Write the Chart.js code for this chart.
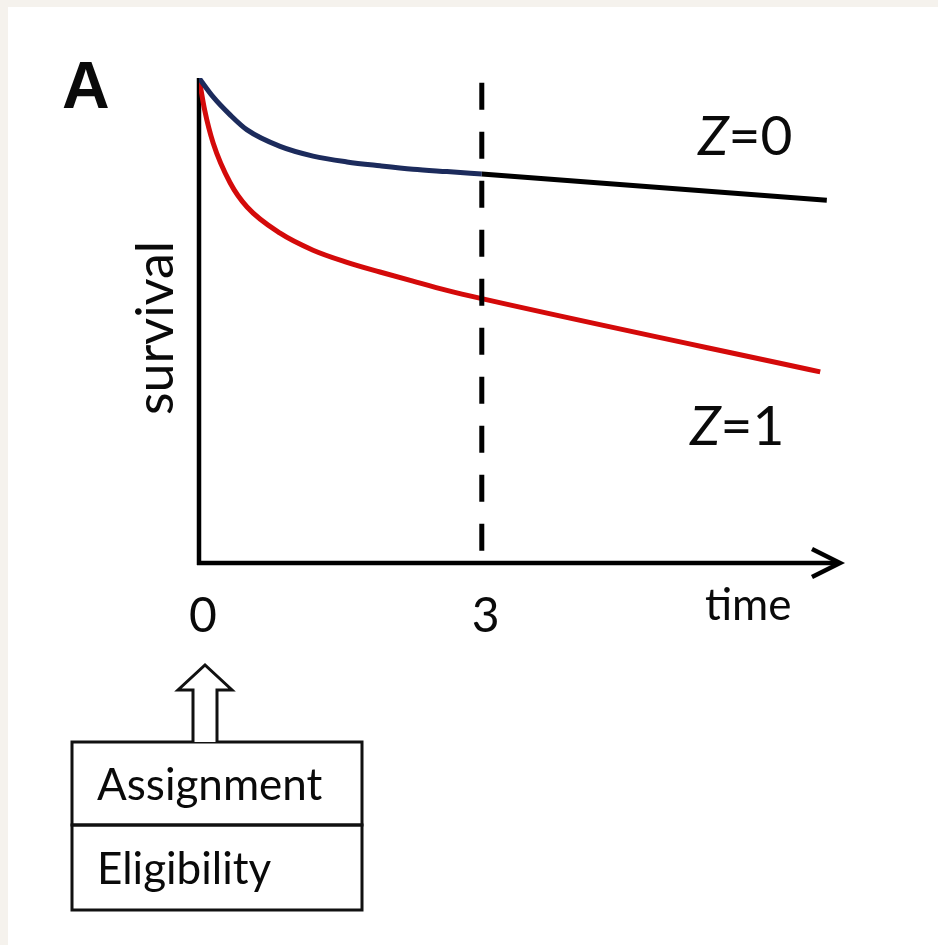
<!DOCTYPE html>
<html>
<head>
<meta charset="utf-8">
<script src="https://cdn.jsdelivr.net/npm/chart.js@4.4.1/dist/chart.umd.min.js"></script>
<style>
  html, body { margin: 0; padding: 0; background: #f5f2ed; }
  canvas { display: block; }
</style>
</head>
<body>
<canvas id="survChart" width="938" height="945"></canvas>
<script>
  // values (time in units, survival 0..1)
  var timeZ0a = [0, 0.15, 0.33, 0.51, 0.86, 1.21, 1.57, 1.92, 2.27, 2.63, 3.0];
  var survZ0a = [1.0, 0.961, 0.924, 0.893, 0.859, 0.839, 0.827, 0.819, 0.812, 0.807, 0.802];
  var timeZ0b = [3.0, 6.66];
  var survZ0b = [0.802, 0.748];
  var timeZ1 = [0, 0.06, 0.15, 0.33, 0.51, 0.86, 1.21, 1.57, 1.92, 2.27, 2.63, 3.0, 6.59];
  var survZ1 = [1.0, 0.934, 0.866, 0.784, 0.734, 0.680, 0.645, 0.620, 0.600, 0.581, 0.562, 0.545, 0.394];
  var cutoffTime = [3, 3];
  var cutoffSurv = [0.99, 0.022];
  var tickValues = [0, 3];
  var tickLabels = ['0', '3'];

  function pts(xs, ys) {
    return xs.map(function (x, i) { return { x: x, y: ys[i] }; });
  }

  var font = 'Lato, "Open Sans", sans-serif';

  var decor = {
    id: 'decor',
    beforeDraw: function (chart) {
      var c = chart.ctx;
      c.save();
      c.fillStyle = '#f5f2ed';
      c.fillRect(0, 0, chart.width, chart.height);
      c.fillStyle = '#ffffff';
      c.fillRect(8, 7, chart.width - 8, chart.height - 7);
      c.restore();
    },
    beforeDatasetsDraw: function (chart) {
      var c = chart.ctx, a = chart.chartArea;
      c.save();
      c.strokeStyle = '#000';
      c.lineWidth = 4.5;
      c.lineCap = 'butt';
      // y axis
      c.beginPath();
      c.moveTo(a.left, a.top);
      c.lineTo(a.left, a.bottom + 2);
      c.stroke();
      // x axis with arrow
      c.beginPath();
      c.moveTo(a.left - 2, a.bottom);
      c.lineTo(a.right - 2, a.bottom);
      c.stroke();
      c.lineJoin = 'miter';
      c.beginPath();
      c.moveTo(a.right - 28, a.bottom - 14);
      c.lineTo(a.right, a.bottom);
      c.lineTo(a.right - 28, a.bottom + 14);
      c.stroke();
      c.restore();
    },
    afterDraw: function (chart) {
      var c = chart.ctx, xs = chart.scales.x;
      c.save();
      c.fillStyle = '#0a0a0a';
      c.textBaseline = 'alphabetic';

      // panel letter
      c.font = 'bold 66px "Liberation Sans", Arial, sans-serif';
      c.textAlign = 'left';
      c.fillText('A', 62, 108);

      // tick labels
      c.font = '48px ' + font;
      c.textAlign = 'center';
      tickValues.forEach(function (v, i) {
        c.fillText(tickLabels[i], xs.getPixelForValue(v) + 4, 632);
      });

      // axis titles
      c.font = '44px ' + font;
      c.textAlign = 'left';
      c.fillText('time', 705, 620);

      c.save();
      c.translate(173, 328);
      c.rotate(-Math.PI / 2);
      c.textAlign = 'center';
      c.font = '52px ' + font;
      c.fillText('survival', 0, 0);
      c.restore();

      // group labels
      function zLabel(txt, x, y) {
        c.textAlign = 'left';
        c.font = 'italic 55px ' + font;
        c.fillText('Z', x, y);
        var w = c.measureText('Z').width;
        c.font = '55px ' + font;
        c.fillText(txt, x + w, y);
      }
      zLabel('=0', 698, 155);
      zLabel('=1', 690, 445);

      // boxes
      c.strokeStyle = '#111';
      c.lineWidth = 3;
      c.strokeRect(72, 742, 290, 83);
      c.strokeRect(72, 825, 290, 85);
      c.font = '44px ' + font;
      c.textAlign = 'left';
      c.fillText('Assignment', 97, 800);
      c.fillText('Eligibility', 97, 884);

      // hollow up arrow
      c.fillStyle = '#fff';
      c.beginPath();
      c.moveTo(193, 742);
      c.lineTo(193, 690);
      c.lineTo(178, 690);
      c.lineTo(205, 665);
      c.lineTo(232, 690);
      c.lineTo(217, 690);
      c.lineTo(217, 742);
      c.fill();
      c.stroke();
      c.restore();
    }
  };

  var ctx = document.getElementById('survChart').getContext('2d');
  var survChart = new Chart(ctx, {
    type: 'line',
    data: {
      datasets: [
        {
          label: 'cutoff',
          data: pts(cutoffTime, cutoffSurv),
          borderColor: '#000',
          borderWidth: 5,
          borderDash: [27, 22],
          pointRadius: 0,
          tension: 0
        },
        {
          label: 'Z=0 early',
          data: pts(timeZ0a, survZ0a),
          borderColor: '#1c2b5c',
          borderWidth: 5,
          pointRadius: 0,
          cubicInterpolationMode: 'monotone'
        },
        {
          label: 'Z=0 late',
          data: pts(timeZ0b, survZ0b),
          borderColor: '#000',
          borderWidth: 5,
          pointRadius: 0,
          tension: 0
        },
        {
          label: 'Z=1',
          data: pts(timeZ1, survZ1),
          borderColor: '#d40a0a',
          borderWidth: 5,
          pointRadius: 0,
          cubicInterpolationMode: 'monotone'
        }
      ]
    },
    options: {
      responsive: false,
      animation: false,
      layout: { padding: { left: 199, right: 98, top: 78, bottom: 382 } },
      plugins: { legend: { display: false }, tooltip: { enabled: false } },
      scales: {
        x: { type: 'linear', min: 0, max: 6.8, display: false },
        y: { min: 0, max: 1, display: false }
      }
    },
    plugins: [decor]
  });
</script>
</body>
</html>
